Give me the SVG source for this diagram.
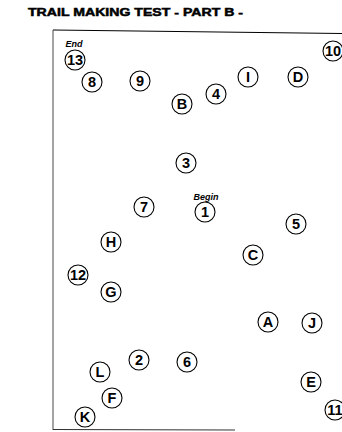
<svg xmlns="http://www.w3.org/2000/svg" width="342" height="432" viewBox="0 0 342 432">
<style>
.n circle{fill:#fff;stroke:#000;stroke-width:1.1}
.n text{font-family:"Liberation Sans",Arial,sans-serif;font-weight:bold;font-size:14.5px;text-anchor:middle;fill:#000}
.lbl{font-family:"Liberation Sans",Arial,sans-serif;font-weight:bold;font-style:italic;font-size:9px;text-anchor:middle;fill:#000}
.title{font-family:"Liberation Sans",Arial,sans-serif;font-weight:900;font-size:11px;fill:#000;stroke:#000;stroke-width:0.5}
</style>
<rect width="342" height="432" fill="#fff"/>
<text class="title" x="28" y="16" textLength="215" lengthAdjust="spacingAndGlyphs">TRAIL MAKING TEST - PART B -</text>
<g id="border" fill="none" stroke="#000">
<path d="M53,30 L342,33.5" stroke-width="1.2"/>
<path d="M53,30 L53,430" stroke-width="0.9" stroke="#333"/>
<path d="M53,429.5 L235,430" stroke-width="1.2" stroke="#333"/>
</g>
<g id="connectors"></g>
<text class="lbl" x="74" y="47">End</text>
<text class="lbl" x="206" y="200">Begin</text>
<g id="n13" class="n"><circle cx="75" cy="60" r="10"/><text x="75" y="65">13</text></g>
<g id="n8" class="n"><circle cx="92" cy="82" r="10"/><text x="92" y="87">8</text></g>
<g id="n9" class="n"><circle cx="140" cy="81" r="10"/><text x="140" y="86">9</text></g>
<g id="nB" class="n"><circle cx="182" cy="104" r="10"/><text x="182" y="109">B</text></g>
<g id="n4" class="n"><circle cx="216" cy="94" r="10"/><text x="216" y="99">4</text></g>
<g id="nI" class="n"><circle cx="248" cy="77" r="10"/><text x="248" y="82">I</text></g>
<g id="nD" class="n"><circle cx="298" cy="77" r="10"/><text x="298" y="82">D</text></g>
<g id="n10" class="n"><circle cx="333" cy="51" r="10"/><text x="333" y="56">10</text></g>
<g id="n3" class="n"><circle cx="186" cy="163" r="10"/><text x="186" y="168">3</text></g>
<g id="n7" class="n"><circle cx="144" cy="207" r="10"/><text x="144" y="212">7</text></g>
<g id="n1" class="n"><circle cx="205" cy="212" r="10"/><text x="205" y="217">1</text></g>
<g id="n5" class="n"><circle cx="296" cy="224" r="10"/><text x="296" y="229">5</text></g>
<g id="nH" class="n"><circle cx="111" cy="242" r="10"/><text x="111" y="247">H</text></g>
<g id="nC" class="n"><circle cx="253" cy="255" r="10"/><text x="253" y="260">C</text></g>
<g id="n12" class="n"><circle cx="78" cy="275" r="10"/><text x="78" y="280">12</text></g>
<g id="nG" class="n"><circle cx="111" cy="292" r="10"/><text x="111" y="297">G</text></g>
<g id="nA" class="n"><circle cx="268" cy="322" r="10"/><text x="268" y="327">A</text></g>
<g id="nJ" class="n"><circle cx="312" cy="323" r="10"/><text x="312" y="328">J</text></g>
<g id="n2" class="n"><circle cx="139" cy="360" r="10"/><text x="139" y="365">2</text></g>
<g id="n6" class="n"><circle cx="187" cy="362" r="10"/><text x="187" y="367">6</text></g>
<g id="nL" class="n"><circle cx="100" cy="372" r="10"/><text x="100" y="377">L</text></g>
<g id="nE" class="n"><circle cx="311" cy="382" r="10"/><text x="311" y="387">E</text></g>
<g id="nF" class="n"><circle cx="112" cy="398" r="10"/><text x="112" y="403">F</text></g>
<g id="n11" class="n"><circle cx="335" cy="410" r="10"/><text x="335" y="415">11</text></g>
<g id="nK" class="n"><circle cx="85" cy="417" r="10"/><text x="85" y="422">K</text></g>
</svg>
